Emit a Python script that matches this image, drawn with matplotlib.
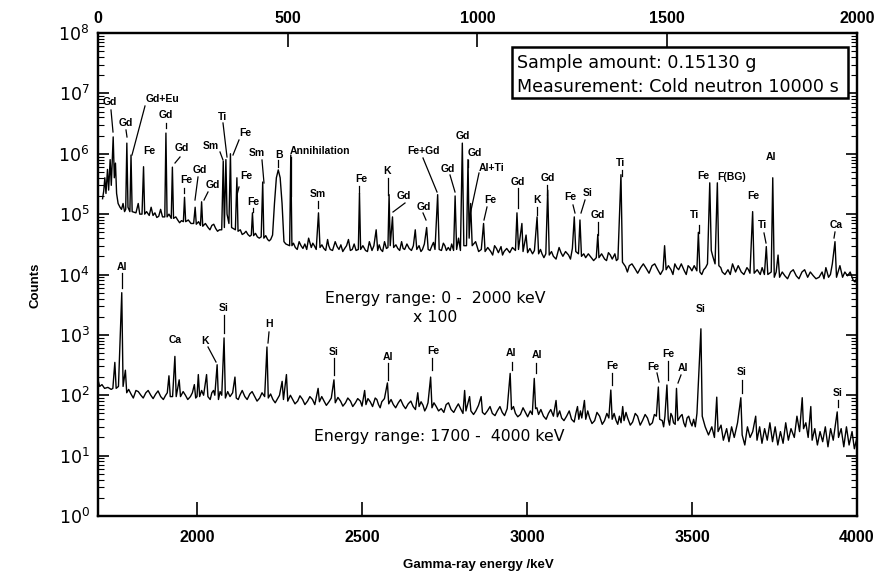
import matplotlib
matplotlib.use("Agg")
import matplotlib.pyplot as plt
from matplotlib.lines import Line2D
from matplotlib.patches import Rectangle
from matplotlib.ticker import LogLocator, NullLocator

# ---------------- data ----------------
# upper spectrum: 0-2000 keV (top axis), counts shown x100 -- peaks and main baseline points
top_keV = [12, 15, 18, 21, 25, 28, 32, 35, 40, 43, 46, 49, 53, 58, 62, 66, 70, 73, 76, 79, 84, 87, 90,
           100, 106, 110, 116, 120, 123, 135, 140, 145, 160, 165, 170, 176, 179, 182, 193, 196, 199,
           210, 220, 225, 228, 231, 245, 252, 256, 259, 270, 273, 276, 290, 300, 310, 320, 326, 330,
           333, 337, 340, 345, 349, 352, 362, 366, 369, 385, 395, 404, 407, 410, 420, 430, 434, 437,
           447, 455, 460, 465, 470, 475, 480, 485, 490, 495, 505, 508, 511, 520, 530, 540, 555, 562,
           570, 581, 585, 595, 605, 612, 625, 635, 650, 660, 670, 686, 689, 692, 705, 715, 722, 733,
           737, 745, 755, 760, 764, 767, 770, 776, 779, 790, 800, 808, 820, 836, 840, 855, 866, 870,
           880, 888, 895, 899, 910, 918, 928, 937, 941, 945, 950, 955, 960, 964, 971, 975, 978, 982,
           986, 995, 1003, 1010, 1016, 1020, 1035, 1045, 1055, 1070, 1085, 1100, 1104, 1108, 1117,
           1120, 1128, 1132, 1145, 1157, 1161, 1170, 1180, 1185, 1189, 1200, 1215, 1225, 1240, 1250,
           1255, 1259, 1266, 1270, 1274, 1285, 1300, 1313, 1317, 1320, 1335, 1345, 1355, 1370, 1378,
           1382, 1390, 1400, 1415, 1430, 1445, 1460, 1475, 1489, 1493, 1497, 1510, 1520, 1530, 1545,
           1555, 1565, 1578, 1582, 1586, 1596, 1606, 1612, 1616, 1620, 1626, 1632, 1636, 1645, 1660,
           1672, 1680, 1695, 1710, 1718, 1725, 1729, 1745, 1756, 1761, 1765, 1774, 1778, 1782, 1792,
           1796, 1810, 1825, 1840, 1855, 1870, 1885, 1900, 1918, 1925, 1935, 1942, 1946, 1955, 1962,
           1975, 1990, 2000]
top_counts = [1.8e5, 2.4e5, 4.0e5, 2.2e5, 5.5e5, 2.5e5, 8e5, 3e5, 1.9e6, 4e5, 7e5, 2.2e5, 1.5e5, 1.3e5,
              1.2e5, 1.5e5, 1.1e5, 1.2e5, 1.5e6, 1.3e5, 1.1e5, 9.5e5, 1.1e5,
              1.05e5, 1.5e5, 1.0e5, 1.0e5, 6.1e5, 1.0e5, 9.5e4, 1.3e5, 9.5e4, 9.2e4, 1.2e5, 9e4, 9e4,
              2.2e6, 9e4, 8.5e4, 6e5, 8.5e4,
              8e4, 7.8e4, 7.5e4, 1.9e5, 7.5e4, 7e4, 7e4, 1.3e5, 6.8e4, 6.5e4, 1.6e5, 6.3e4, 6e4, 6.5e4,
              5.8e4, 5.5e4, 5.5e4, 7.5e5,
              6e4, 8e5, 1e5, 7e4, 1.0e6, 6e4, 5.5e4, 4e5, 5.2e4, 4.8e4, 4.6e4, 4.5e4, 1.05e5, 4.4e4,
              4.2e4, 4.2e4, 3.4e5, 4e4,
              3.8e4, 3.8e4, 4.5e4, 1.5e5, 4e5, 5.4e5, 4e5, 1.5e5, 3.5e4, 3.2e4, 3.0e4, 9.5e5, 3.0e4,
              2.8e4, 3.5e4, 2.7e4, 4e4, 2.8e4,
              3e4, 1.05e5, 2.8e4, 2.7e4, 3.8e4, 2.6e4, 3.5e4, 2.6e4, 2.7e4, 3.8e4, 2.6e4, 2.6e4, 2.2e5,
              2.6e4, 2.5e4, 3.5e4, 2.5e4, 5.5e4,
              2.5e4, 2.6e4, 3.5e4, 2.7e4, 2.8e4, 2.1e5, 3e4, 9e4, 2.8e4, 2.7e4, 3.5e4, 2.6e4, 2.7e4,
              5.5e4, 2.6e4, 2.6e4, 6e4, 2.6e4,
              3e4, 2.6e4, 2.1e5, 2.6e4, 3.3e4, 2.5e4, 2.5e4, 2.5e4, 2.0e5, 2.6e4, 4e4, 2.5e4, 1.5e6,
              3e4, 3e4, 8e5, 4e4, 1.5e5,
              3e4, 3.5e4, 2.4e4, 2.6e4, 7e4, 2.4e4, 2.4e4, 3e4, 2.3e4, 2.4e4, 2.3e4, 2.5e4, 1.05e5,
              2.6e4, 7e4,
              2.4e4, 4.5e4, 2.3e4, 2.2e4, 9e4, 2.2e4, 2.2e4, 2.2e4, 2.5e5, 2.1e4, 2.0e4, 2.8e4, 2.0e4,
              2.1e4, 2.7e4,
              9e4, 2.4e4, 2.2e4, 8e4, 2.0e4, 1.9e4, 1.9e4, 1.9e4, 4.6e4, 1.9e4, 1.8e4, 2.3e4, 1.8e4,
              1.8e4, 4.5e5,
              1.6e4, 1.35e4, 1.4e4, 1.25e4, 1.3e4, 1.25e4, 1.4e4, 1.2e4, 1.2e4, 3e4, 1.2e4, 1.2e4,
              1.5e4, 1.2e4, 1.15e4,
              1.4e4, 1.15e4, 1.15e4, 5e4, 1.1e4, 1.2e4, 1.5e4, 3.3e5, 2.5e4, 2e4, 1.5e4, 3.3e5, 1.4e4,
              1.1e4, 1.2e4,
              1.5e4, 1.1e4, 1.1e4, 1.3e4, 1.05e4, 1.1e5, 1.05e4, 1.0e4, 1.0e4, 2.9e4, 1.0e4, 1.1e4,
              4e5, 9e3, 2.1e4,
              9e3, 9.5e3, 1.1e4, 9.5e3, 1.1e4, 9e3, 9.5e3, 9e3, 1.3e4, 9e3, 1.5e4, 3.5e4, 9e3, 1.4e4,
              9e3,
              9.5e3, 8e3, 9e3]
# upper spectrum: extra baseline (noise) readings
top_fine_keV = [128, 150, 155, 187, 205, 215, 238, 265, 283, 295, 305, 315, 375, 380, 390, 400, 415, 425,
                442, 451, 515, 525, 535, 545, 550, 566, 575, 590, 600, 608, 618, 630, 640, 645, 655,
                665, 675, 680, 698, 710, 727, 741, 750, 785, 795, 804, 814, 826, 831, 846, 851, 860,
                875, 884, 905, 914, 923, 932, 1027, 1040, 1050, 1062, 1066, 1077, 1092, 1138, 1150,
                1166, 1175, 1195, 1207, 1220, 1232, 1245, 1280, 1292, 1306, 1327, 1340, 1350, 1362,
                1366, 1395, 1407, 1422, 1437, 1452, 1467, 1482, 1503, 1515, 1525, 1537, 1550, 1560,
                1571, 1591, 1601, 1641, 1652, 1666, 1687, 1702, 1714, 1737, 1750, 1787, 1803, 1817,
                1832, 1847, 1862, 1877, 1892, 1908, 1913, 1930, 1968, 1982, 1995]
top_fine_counts = [1.1e5, 1.05e5, 8.8e4, 1.0e5, 9e4, 7.2e4, 8e4, 7.5e4, 7e4, 5.5e4, 6.8e4, 5.2e4, 5.5e4,
                   4.6e4, 5.2e4, 4.3e4, 4.8e4, 4.0e4, 4.4e4, 3.6e4, 3.3e4, 2.6e4, 3.0e4, 3.2e4, 2.6e4,
                   3.3e4, 2.6e4, 3.1e4, 2.5e4, 3.0e4, 2.5e4, 2.9e4, 3.1e4, 2.4e4, 3.0e4, 2.5e4, 3.2e4,
                   2.5e4, 3.0e4, 2.4e4, 3.0e4, 3.1e4, 2.4e4, 3.1e4, 2.5e4, 2.7e4, 3.2e4, 2.5e4, 3.0e4,
                   3.0e4, 2.4e4, 3.2e4, 2.5e4, 3.4e4, 2.5e4, 3.0e4, 2.8e4, 3.2e4, 2.8e4, 2.1e4, 2.7e4,
                   2.9e4, 2.1e4, 2.7e4, 2.8e4, 2.7e4, 2.5e4, 2.6e4, 1.9e4, 2.4e4, 1.8e4, 2.3e4, 2.4e4,
                   1.8e4, 2.2e4, 2.2e4, 1.7e4, 2.2e4, 1.7e4, 2.1e4, 2.2e4, 1.7e4, 1.1e4, 1.5e4, 1.05e4,
                   1.5e4, 1.05e4, 1.5e4, 1.0e4, 1.4e4, 1.0e4, 1.3e4, 1.5e4, 1.0e4, 1.3e4, 1.4e4, 1.0e4,
                   1.3e4, 1.3e4, 1.0e4, 1.0e4, 1.4e4, 1.0e4, 1.2e4, 1.2e4, 1.3e4, 1.1e4, 1.1e4, 8.5e3,
                   1.2e4, 8.5e3, 1.2e4, 1.1e4, 8.5e3, 1.1e4, 8.5e3, 1.0e4, 1.1e4, 1.1e4, 7.5e3]

# lower spectrum: 1700-4000 keV (bottom axis)
bot_keV = [1700, 1705, 1712, 1720, 1730, 1740, 1745, 1751, 1755, 1762, 1772, 1776, 1783, 1787, 1800,
           1815, 1830, 1845, 1860, 1875, 1890, 1905, 1915, 1919, 1926, 1933, 1937, 1946, 1950, 1965,
           1980, 1992, 1996, 2000, 2004, 2008, 2020, 2029, 2033, 2045, 2054, 2061, 2065, 2075, 2082,
           2086, 2100, 2108, 2115, 2119, 2130, 2145, 2160, 2175, 2190, 2205, 2212, 2216, 2230, 2245,
           2258, 2262, 2271, 2275, 2290, 2305, 2320, 2335, 2350, 2367, 2371, 2385, 2400, 2415, 2419,
           2435, 2450, 2465, 2480, 2495, 2508, 2512, 2525, 2540, 2550, 2560, 2577, 2581, 2595, 2610,
           2625, 2640, 2655, 2669, 2673, 2685, 2695, 2708, 2712, 2725, 2740, 2755, 2770, 2785, 2800,
           2811, 2815, 2826, 2830, 2845, 2861, 2865, 2880, 2895, 2910, 2925, 2940, 2949, 2953, 2965,
           2980, 2995, 3010, 3022, 3026, 3035, 3050, 3065, 3080, 3088, 3092, 3105, 3120, 3135, 3153,
           3157, 3166, 3174, 3178, 3190, 3205, 3220, 3235, 3248, 3254, 3258, 3270, 3280, 3290, 3294,
           3305, 3320, 3335, 3350, 3365, 3380, 3392, 3398, 3402, 3410, 3418, 3424, 3428, 3436, 3444,
           3453, 3457, 3465, 3475, 3485, 3495, 3505, 3515, 3527, 3531, 3540, 3550, 3560, 3568, 3575,
           3579, 3588, 3595, 3605, 3612, 3620, 3628, 3638, 3648, 3652, 3660, 3668, 3676, 3684, 3693,
           3697, 3705, 3712, 3720, 3728, 3736, 3744, 3752, 3760, 3768, 3776, 3784, 3792, 3800, 3810,
           3818, 3826, 3834, 3838, 3845, 3852, 3860, 3864, 3872, 3880, 3888, 3896, 3904, 3912, 3920,
           3928, 3940, 3944, 3952, 3960, 3968, 3976, 3985, 3992, 4000]
bot_counts = [180, 140, 150, 130, 135, 125, 130, 350, 130, 140, 5000, 140, 260, 110, 105,
              120, 100, 110, 100, 105, 95, 100, 210, 95, 95, 440, 95, 180, 95, 100,
              95, 150, 90, 95, 220, 95, 100, 220, 95, 110, 100, 320, 85, 100, 890,
              90, 95, 110, 200, 90, 100, 95, 105, 95, 90, 95, 630, 90, 85, 90,
              170, 85, 220, 80, 85, 80, 85, 80, 85, 130, 78, 80, 78, 180, 75,
              80, 75, 80, 75, 80, 120, 70, 78, 90, 70, 78, 160, 72, 70, 75,
              68, 72, 65, 110, 65, 68, 62, 200, 62, 65, 60, 70, 58, 62, 58,
              120, 55, 95, 55, 55, 95, 52, 55, 50, 55, 52, 60, 230, 58, 50,
              48, 52, 55, 190, 60, 48, 45, 50, 45, 82, 44, 42, 45, 40, 65,
              40, 42, 82, 40, 42, 38, 45, 38, 42, 122, 40, 38, 45, 65, 38,
              42, 36, 45, 38, 42, 35, 45, 137, 40, 38, 45, 148, 40, 50, 35,
              130, 38, 45, 35, 42, 36, 40, 50, 1260, 45, 30, 22, 30, 20, 93,
              25, 32, 18, 28, 17, 30, 20, 35, 91, 22, 15, 30, 20, 25, 45,
              18, 30, 16, 28, 18, 35, 17, 30, 15, 25, 16, 35, 18, 28, 20,
              45, 25, 91, 28, 35, 20, 65, 18, 28, 15, 25, 17, 30, 14, 28,
              18, 53, 20, 28, 14, 30, 15, 25, 13, 20]
# lower spectrum: extra baseline (noise) readings
bot_fine_keV = [1793, 1807, 1822, 1837, 1852, 1867, 1882, 1898, 1910, 1958, 1972, 1986, 2014, 2040, 2050,
                2070, 2093, 2125, 2137, 2152, 2167, 2182, 2197, 2223, 2237, 2250, 2283, 2297, 2312,
                2327, 2342, 2357, 2378, 2392, 2407, 2427, 2442, 2457, 2472, 2487, 2500, 2518, 2532,
                2545, 2555, 2568, 2588, 2602, 2617, 2632, 2648, 2662, 2679, 2690, 2700, 2718, 2732,
                2748, 2762, 2778, 2792, 2806, 2820, 2838, 2853, 2872, 2888, 2903, 2918, 2932, 2959,
                2972, 2988, 3002, 3016, 3030, 3042, 3058, 3072, 3099, 3112, 3128, 3143, 3148, 3162,
                3184, 3197, 3212, 3228, 3242, 3264, 3275, 3285, 3300, 3313, 3328, 3343, 3358, 3372,
                3386, 3414, 3432, 3440, 3449, 3470, 3480, 3490, 3500, 3510]
bot_fine_counts = [125, 90, 115, 90, 120, 88, 118, 85, 110, 115, 85, 110, 120, 85, 120,
                   115, 115, 85, 120, 85, 115, 80, 110, 105, 75, 100, 100, 72, 98,
                   70, 95, 70, 95, 68, 90, 92, 66, 90, 65, 88, 66, 88, 65,
                   85, 62, 88, 85, 62, 85, 60, 80, 58, 78, 55, 75, 75, 55,
                   52, 75, 52, 72, 50, 70, 48, 68, 48, 65, 46, 65, 46, 65,
                   44, 62, 44, 48, 62, 58, 40, 58, 55, 38, 55, 36, 50, 55,
                   55, 34, 52, 33, 50, 50, 33, 35, 52, 32, 50, 32, 48, 32,
                   48, 30, 32, 45, 33, 48, 30, 45, 31, 30]

top_ticks = [0, 500, 1000, 1500, 2000]
bot_ticks = [2000, 2500, 3000, 3500, 4000]
y_decades = [0, 1, 2, 3, 4, 5, 6, 7, 8]

# peak labels: (text, x_px, y_px, ha)  -- positions in reference pixels
top_labels = [("Gd", 110, 102, "center"), ("Gd", 126, 123, "center"), ("Gd+Eu", 162, 99, "center"),
              ("Fe", 149, 151, "center"), ("Gd", 166, 115, "center"), ("Gd", 182, 148, "center"),
              ("Fe", 186, 180, "center"), ("Gd", 200, 170, "center"), ("Gd", 213, 185, "center"),
              ("Sm", 211, 146, "center"), ("Ti", 223, 117, "center"), ("Fe", 245, 133, "center"),
              ("Sm", 257, 153, "center"), ("Fe", 246, 176, "center"), ("Fe", 253, 202, "center"),
              ("B", 279, 155, "center"), ("Annihilation", 290, 151, "left"), ("Sm", 318, 194, "center"),
              ("Fe", 361, 179, "center"), ("K", 387, 171, "center"), ("Gd", 404, 196, "center"),
              ("Gd", 424, 207, "center"), ("Fe+Gd", 424, 151, "center"), ("Gd", 448, 169, "center"),
              ("Gd", 463, 136, "center"), ("Gd", 475, 153, "center"), ("Al+Ti", 492, 168, "center"),
              ("Fe", 490, 200, "center"), ("Gd", 518, 182, "center"), ("Gd", 548, 178, "center"),
              ("K", 537, 200, "center"), ("Fe", 570, 197, "center"), ("Si", 588, 193, "center"),
              ("Gd", 598, 215, "center"), ("Ti", 621, 163, "center"), ("Fe", 703, 176, "center"),
              ("F(BG)", 732, 177, "center"), ("Al", 771, 157, "center"), ("Fe", 753, 196, "center"),
              ("Ti", 695, 215, "center"), ("Ti", 763, 225, "center"), ("Ca", 836, 225, "center")]
top_leaders = [(111, 110, 113, 132), (126, 130, 127, 137), (145, 106, 132, 155), (166, 123, 166, 128),
               (180, 157, 175, 163), (184, 188, 184, 193), (198, 177, 195, 200), (208, 192, 204, 200),
               (220, 152, 223, 160), (223, 123, 227, 157), (239, 140, 233, 155), (262, 160, 264, 183),
               (239, 187, 237, 195), (278, 160, 278, 167), (291, 157, 291, 196), (253, 208, 253, 212),
               (318, 201, 318, 208), (359, 186, 359, 193), (388, 178, 388, 195), (405, 203, 393, 212),
               (423, 213, 426, 220), (423, 158, 437, 192), (450, 175, 455, 192), (468, 160, 468, 167),
               (479, 173, 470, 215), (487, 207, 484, 220), (518, 188, 518, 208), (547, 185, 547, 195),
               (537, 207, 537, 215), (573, 205, 575, 213), (585, 200, 581, 213), (598, 222, 598, 235),
               (622, 170, 622, 176), (699, 225, 699, 233), (764, 233, 766, 243), (835, 232, 834, 238)]
bot_labels = [("Al", 122, 267, "center"), ("Ca", 175, 340, "center"), ("K", 205, 341, "center"),
              ("Si", 224, 308, "center"), ("H", 269, 324, "center"), ("Si", 334, 352, "center"),
              ("Al", 388, 357, "center"), ("Fe", 433, 351, "center"), ("Al", 511, 353, "center"),
              ("Al", 537, 355, "center"), ("Fe", 612, 366, "center"), ("Fe", 653, 367, "center"),
              ("Fe", 668, 354, "center"), ("Al", 683, 368, "center"), ("Si", 701, 309, "center"),
              ("Si", 742, 372, "center"), ("Si", 838, 393, "center")]
bot_leaders = [(122, 273, 122, 288), (208, 347, 216, 362), (224, 315, 224, 333), (269, 332, 268, 343),
               (334, 358, 334, 375), (388, 363, 388, 380), (432, 358, 432, 370), (512, 362, 512, 370),
               (536, 363, 536, 373), (612, 373, 612, 385), (657, 373, 659, 382), (668, 361, 668, 380),
               (681, 375, 678, 383), (742, 380, 742, 393), (838, 400, 838, 407)]


def merged(xa, ya, xb, yb):
    pts = sorted(zip(list(xa) + list(xb), list(ya) + list(yb)))
    return [p[0] for p in pts], [p[1] for p in pts]


top_x, top_y = merged(top_keV, top_counts, top_fine_keV, top_fine_counts)
bot_x, bot_y = merged(bot_keV, bot_counts, bot_fine_keV, bot_fine_counts)

# ---------------- figure ----------------
W, H = 878, 576
fig = plt.figure(figsize=(W / 100, H / 100), dpi=100)


def fx(x):
    return x / W


def fy(y):
    return 1 - y / H


L, R, T, B = 98, 857, 33, 516
ax = fig.add_axes([fx(L), fy(B), (R - L) / W, (B - T) / H])
ax.set_yscale("log")
ax.plot(bot_x, bot_y, color="black", lw=1.0)
ax.set_xlim(1700, 4000)
ax.set_ylim(1, 1e8)

ax2 = ax.twiny()
ax2.plot(top_x, top_y, color="black", lw=1.0)
ax2.set_xlim(0, 2000)
ax.set_ylim(1, 1e8)

for a in (ax, ax2):
    for s in a.spines.values():
        s.set_linewidth(1.6)

tick_font = dict(family="Liberation Sans", weight="bold", size=11.5)
ax.set_xticks(bot_ticks, labels=[str(t) for t in bot_ticks], **tick_font)
ax2.set_xticks(top_ticks, labels=[str(t) for t in top_ticks], **tick_font)
ax.xaxis.set_minor_locator(NullLocator())
ax2.xaxis.set_minor_locator(NullLocator())
ax.tick_params(axis="x", which="major", direction="in", length=10, width=1.2, top=False, pad=10)
ax2.tick_params(axis="x", which="major", direction="in", length=10, width=1.2, bottom=False, top=True,
                labeltop=True, pad=5)

ax.set_yticks([10.0 ** d for d in y_decades], labels=[r"$10^{%d}$" % d for d in y_decades])
ax.yaxis.set_minor_locator(LogLocator(base=10, subs=range(2, 10), numticks=20))
ax.tick_params(axis="y", which="major", direction="in", length=8, width=1.2, left=True, right=True,
               labelsize=12.5, pad=6)
ax.tick_params(axis="y", which="minor", direction="in", length=4, width=0.8, left=True, right=True)
ax2.tick_params(axis="y", which="both", left=False, right=False, labelleft=False, labelright=False)

# peak labels and leader lines
lab_font = dict(family="Liberation Sans", weight="bold", size=7.5)
for txt, x, y, ha in top_labels + bot_labels:
    fig.text(fx(x), fy(y), txt, ha=ha, va="center", **lab_font)
for x1, y1, x2, y2 in top_leaders + bot_leaders:
    fig.add_artist(Line2D([fx(x1), fx(x2)], [fy(y1), fy(y2)], transform=fig.transFigure,
                          color="black", lw=0.9))

# annotations
fig.text(fx(435), fy(298), "Energy range: 0 -  2000 keV", ha="center", va="center", fontsize=11.3)
fig.text(fx(435), fy(317), "x 100", ha="center", va="center", fontsize=11.3)
fig.text(fx(439), fy(437), "Energy range: 1700 -  4000 keV", ha="center", va="center", fontsize=11.3)

fig.add_artist(Rectangle((fx(512), fy(98)), (848 - 512) / W, (98 - 47) / H, transform=fig.transFigure,
                         fill=True, facecolor="white", edgecolor="black", lw=1.8))
fig.text(fx(517), fy(63), "Sample amount: 0.15130 g", ha="left", va="center", fontsize=12.6)
fig.text(fx(517), fy(87), "Measurement: Cold neutron 10000 s", ha="left", va="center", fontsize=12.6)

fig.text(fx(478), fy(565), "Gamma-ray energy /keV", ha="center", va="center",
         family="Liberation Sans", weight="bold", fontsize=9.5)
fig.text(fx(36), fy(285), "Counts", ha="center", va="center", rotation=90,
         family="Liberation Sans", weight="bold", fontsize=9.5)

fig.savefig("out.png", dpi=100)
